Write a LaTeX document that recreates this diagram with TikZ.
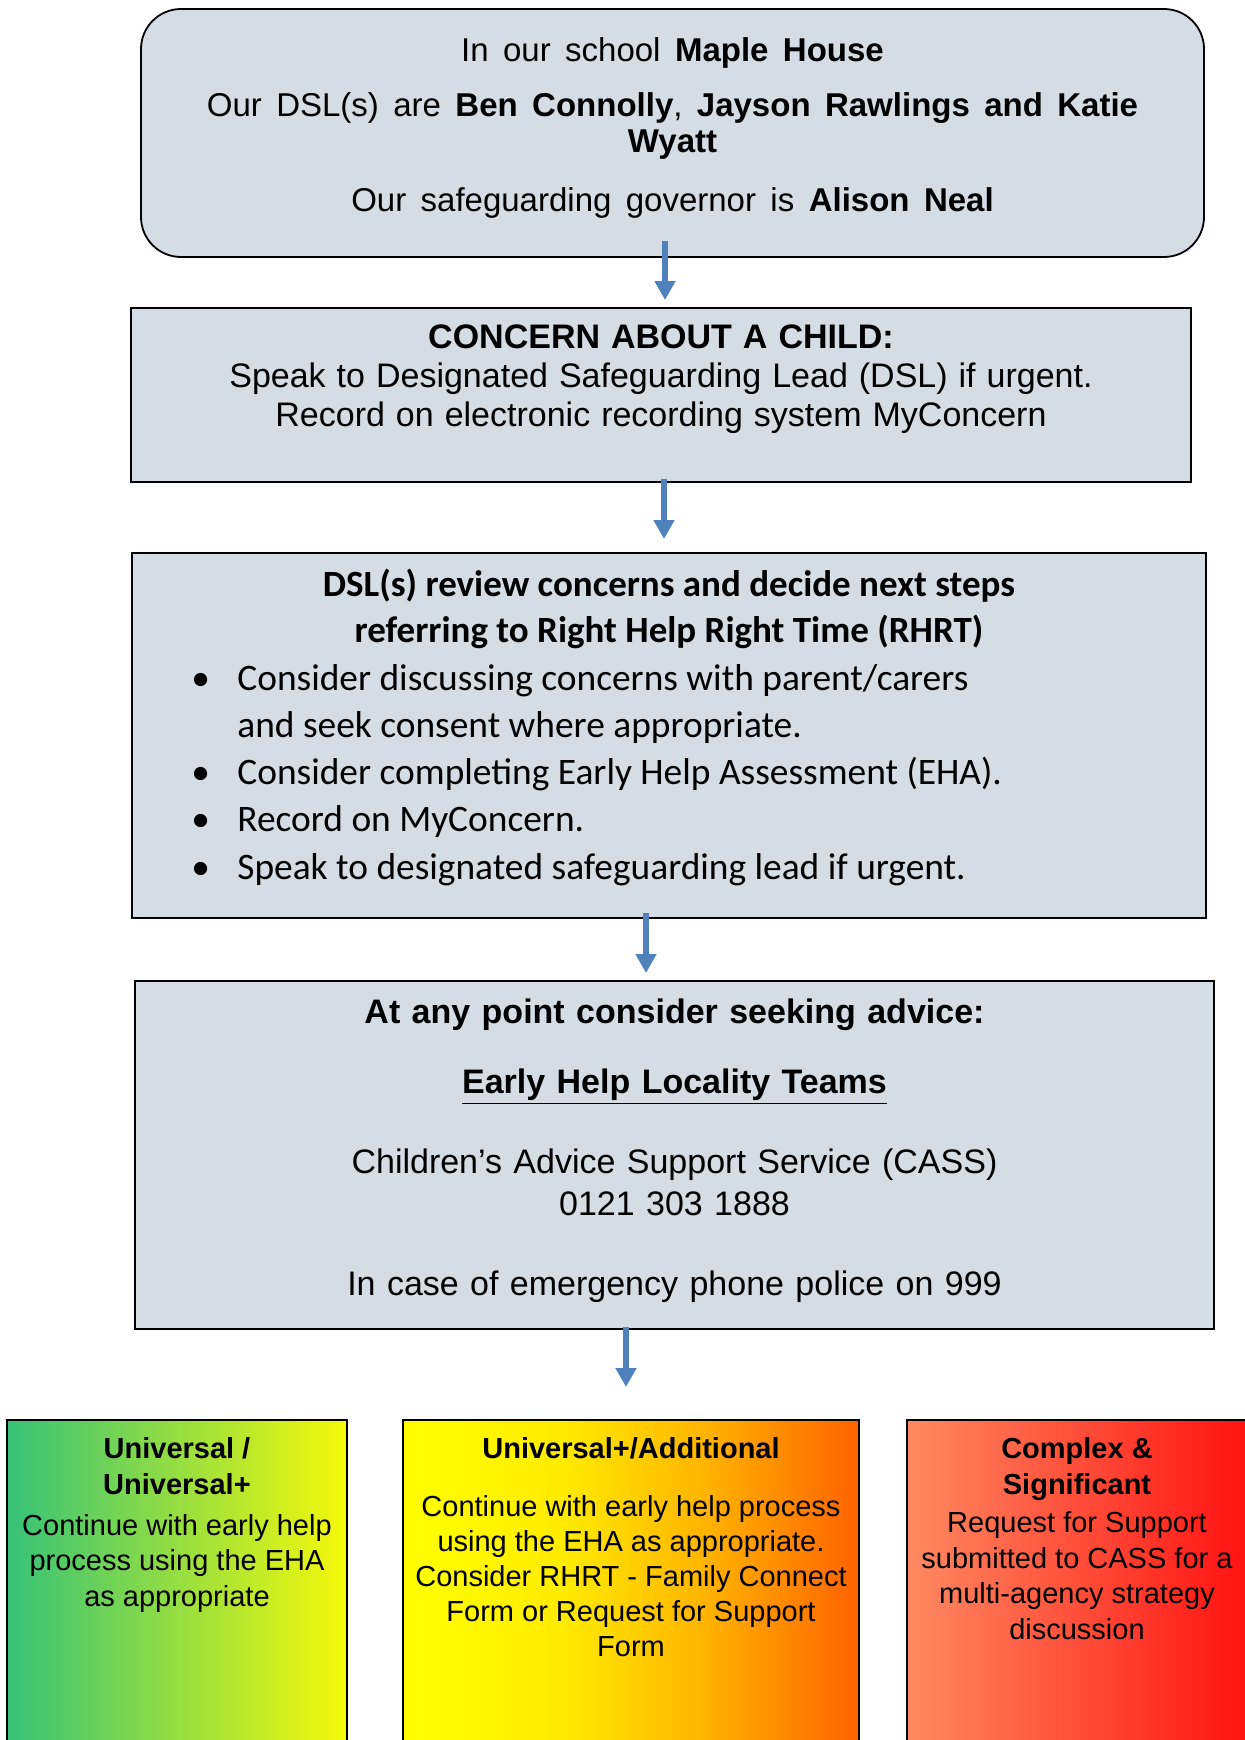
\documentclass[tikz,border=0pt]{standalone}
\usepackage{fontspec}
\setmainfont{Liberation Sans}
\newfontfamily\calibri{Carlito}
\usepackage{xcolor}
\usetikzlibrary{arrows.meta, positioning}

\newcommand{\wordgap}[1]{\spaceskip=#1\relax}

\definecolor{boxfill}{HTML}{D5DCE4}
\definecolor{flowblue}{HTML}{4F81BD}
\definecolor{greenL}{HTML}{36C278}
\definecolor{yellowR}{HTML}{F6F90A}
\definecolor{amberA}{HTML}{FFFF00}
\definecolor{amberB}{HTML}{FFEC00}
\definecolor{amberC}{HTML}{FFB400}
\definecolor{amberD}{HTML}{FF6200}
\definecolor{salmonL}{HTML}{FF8A62}
\definecolor{redR}{HTML}{FF1212}
\pgfdeclarehorizontalshading{amber}{100bp}{color(0bp)=(amberA); color(25bp)=(amberA); color(42bp)=(amberB); color(58bp)=(amberC); color(75bp)=(amberD); color(100bp)=(amberD)}

\begin{document}
\begin{tikzpicture}[>=Stealth,
    stepbox/.style={draw, fill=boxfill, line width=0.9pt, inner sep=0pt, outer sep=0pt},
    band/.style={draw, line width=0.9pt, minimum width=170pt, minimum height=172pt, inner sep=0pt, outer sep=0pt},
    flow/.style={-{Triangle[width=10pt,length=9.5pt]}, line width=2.9pt, draw=flowblue},
    body/.style={font=\fontsize{17}{19.7}\selectfont, align=center, inner sep=0pt},
    small/.style={font=\fontsize{14.5}{17.8}\selectfont, align=center, inner sep=0pt}]
  \useasboundingbox (0,0) rectangle (622pt,-870pt);

  % the boxes, top to bottom
  \node[stepbox, rounded corners=20pt, minimum width=531.5pt, minimum height=124pt] (school) at (336.25pt,-66.5pt) {};
  \node[stepbox, below=25.5pt of school, xshift=-5.75pt, minimum width=530pt, minimum height=87pt] (concern) {};
  \node[stepbox, below=35.5pt of concern, xshift=4pt, minimum width=537pt, minimum height=182.5pt] (review) {};
  \node[stepbox, below=31.5pt of review, xshift=2.75pt, minimum width=539.5pt, minimum height=174pt] (advice) {};

  % levels of need
  \node[band, shading=amber, minimum width=228pt, below=45.5pt of advice, xshift=-21.75pt] (additional) {};
  \node[band, left color=greenL, right color=yellowR, left=28pt of additional] (universal) {};
  \node[band, left color=salmonL, right color=redR, right=24pt of additional] (complex) {};

  % texts
  \node[body, font=\fontsize{16.5}{18}\selectfont\wordgap{7.2pt}, anchor=north] (schooltext) at ([yshift=-14pt]school.north)
    {In our school \textbf{Maple House}\\[9.5pt]
     Our DSL(s) are \textbf{Ben Connolly}, \textbf{Jayson Rawlings and Katie}\\
     \textbf{Wyatt}\\[11.5pt]
     Our safeguarding governor is \textbf{Alison Neal}};
  \node[body, font=\fontsize{17}{19.7}\selectfont\wordgap{5.5pt}, anchor=north] (concerntext) at ([yshift=-8pt]concern.north)
    {\textbf{CONCERN ABOUT A CHILD:}\\
     Speak to Designated Safeguarding Lead (DSL) if urgent.\\
     Record on electronic recording system MyConcern};
  \node[body, font=\calibri\fontsize{18.5}{22.7}\selectfont\bfseries, anchor=north] (reviewtitle) at ([yshift=-8pt]review.north)
    {DSL(s) review concerns and decide next steps\\
     referring to Right Help Right Time (RHRT)};
  \node[body, font=\calibri\fontsize{18.7}{23.6}\selectfont, align=left, anchor=north west] (reviewlist) at ([xshift=29.5pt,yshift=-55.5pt]review.north west)
    {\makebox[23pt][l]{\textbullet}Consider discussing concerns with parent/carers\\
     \hspace*{23pt}and seek consent where appropriate.\\
     \makebox[23pt][l]{\textbullet}Consider completing Early Help Assessment (EHA).\\
     \makebox[23pt][l]{\textbullet}Record on MyConcern.\\
     \makebox[23pt][l]{\textbullet}Speak to designated safeguarding lead if urgent.};
  \node[body, font=\fontsize{17}{21}\selectfont\wordgap{5.7pt}, anchor=north] (advicetext) at ([yshift=-8.5pt]advice.north)
    {\textbf{At any point consider seeking advice:}\\[14pt]
     \underline{\textbf{Early Help Locality Teams}}\\[19pt]
     Children’s Advice Support Service (CASS)\\
     0121 303 1888\\[19pt]
     In case of emergency phone police on 999};
  \node[small, anchor=north] (universaltext) at ([yshift=-8.5pt]universal.north)
    {\textbf{Universal /}\\
     \textbf{Universal+}\\[2.7pt]
     Continue with early help\\
     process using the EHA\\
     as appropriate};
  \node[small, font=\fontsize{14.5}{17.5}\selectfont, anchor=north] (additionaltext) at ([yshift=-8.5pt]additional.north)
    {\textbf{Universal+/Additional}\\[11.5pt]
     Continue with early help process\\
     using the EHA as appropriate.\\
     Consider RHRT - Family Connect\\
     Form or Request for Support\\
     Form};
  \node[small, anchor=north] (complextext) at ([yshift=-8.5pt]complex.north)
    {\textbf{Complex \&}\\
     \textbf{Significant}\\[1.5pt]
     Request for Support\\
     submitted to CASS for a\\
     multi-agency strategy\\
     discussion};

  % arrows between the steps
  \draw[flow, shorten <=-8pt, shorten >=4pt] (school.south -| 332.5pt,0) -- (concern.north -| 332.5pt,0);
  \draw[flow, shorten <=-1.5pt, shorten >=7pt] (concern.south -| 332pt,0) -- (review.north -| 332pt,0);
  \draw[flow, shorten <=-2.5pt, shorten >=4pt] (review.south -| 323pt,0) -- (advice.north -| 323pt,0);
  \draw[flow, shorten <=-1pt, shorten >=16.5pt] (advice.south -| 313pt,0) -- (additional.north -| 313pt,0);
\end{tikzpicture}
\end{document}
